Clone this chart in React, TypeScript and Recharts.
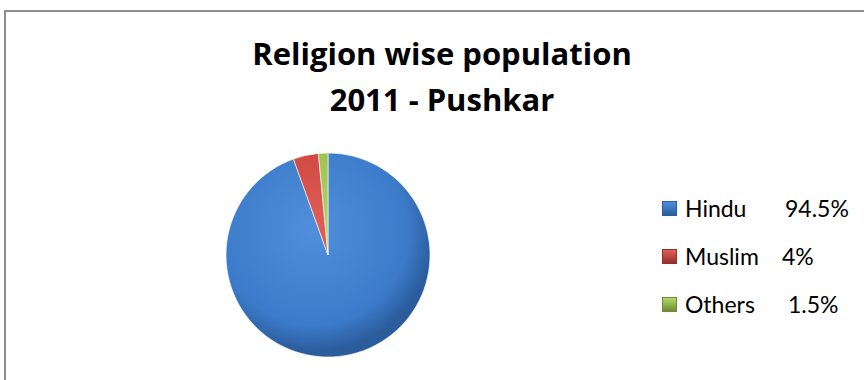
import React from 'react';
import { PieChart, Pie, Cell, Legend } from 'recharts';

const religions = ['Hindu', 'Muslim', 'Others'];
const shares = [94.5, 4, 1.5];
const shareLabels = ['94.5%', '4%', '1.5%'];
const labelOffsets = [123, 120, 126]; // where the percentage starts, from the legend's left edge

const fills = [
  { id: 'hindu', light: '#4f8fdb', mid: '#3c7bc9', dark: '#2b5c9c' },
  { id: 'muslim', light: '#e25f59', mid: '#cc443e', dark: '#94302c' },
  { id: 'others', light: '#b4d66a', mid: '#98be4c', dark: '#6f8c34' },
];

const data = religions.map((name, i) => ({ name, value: shares[i] }));

const CX = 328;
const CY = 255;
const R = 102;

function renderLegend(props: any) {
  const { payload } = props;
  return (
    <div style={{ fontFamily: 'Lato, "Open Sans", sans-serif', fontSize: 23, color: '#000' }}>
      {payload.map((entry: any, i: number) => (
        <div key={`legend-${i}`} style={{ position: 'relative', display: 'flex', alignItems: 'center', height: 48 }}>
          <span
            style={{
              display: 'inline-block',
              width: 15,
              height: 15,
              marginRight: 8,
              boxSizing: 'border-box',
              background: `linear-gradient(180deg, ${fills[i].light}, ${fills[i].dark})`,
              border: `1px solid ${fills[i].dark}`,
            }}
          />
          <span>{religions[i]}</span>
          <span style={{ position: 'absolute', left: labelOffsets[i] }}>{shareLabels[i]}</span>
        </div>
      ))}
    </div>
  );
}

export default function App() {
  return (
    <div style={{ position: 'absolute', left: 0, top: 0, width: 864, height: 380, overflow: 'hidden', background: '#fff' }}>
      <div
        style={{
          position: 'absolute',
          left: 4,
          top: 10,
          width: 900,
          height: 400,
          border: '2px solid #8e8e8e',
          boxSizing: 'border-box',
        }}
      />
      <div
        style={{
          position: 'absolute',
          left: 0,
          top: 30,
          width: 884,
          textAlign: 'center',
          fontFamily: '"Open Sans", Lato, sans-serif',
          fontWeight: 'bold',
          fontSize: 31,
          lineHeight: '46px',
          color: '#000',
        }}
      >
        <div>Religion wise population</div>
        <div>2011 - Pushkar</div>
      </div>
      <div style={{ position: 'absolute', left: 0, top: 0 }}>
        <PieChart width={864} height={380} margin={{ top: 0, right: 0, bottom: 0, left: 0 }}>
          <defs>
            {fills.map((f) => (
              <radialGradient key={f.id} id={`grad-${f.id}`} gradientUnits="userSpaceOnUse" cx={CX - 15} cy={CY - 25} r={R + 20}>
                <stop offset="0%" stopColor={f.light} />
                <stop offset="78%" stopColor={f.mid} />
                <stop offset="100%" stopColor={f.dark} />
              </radialGradient>
            ))}
          </defs>
          <Pie
            data={data}
            dataKey="value"
            nameKey="name"
            cx={CX}
            cy={CY}
            outerRadius={R}
            startAngle={90}
            endAngle={-270}
            stroke="#ffffff"
            strokeWidth={0.6}
            isAnimationActive={false}
          >
            {data.map((entry, index) => (
              <Cell key={`cell-${index}`} fill={`url(#grad-${fills[index].id})`} />
            ))}
          </Pie>
          <Legend
            layout="vertical"
            verticalAlign="top"
            align="right"
            wrapperStyle={{ left: 662, top: 184, width: 200 }}
            content={renderLegend}
          />
        </PieChart>
      </div>
    </div>
  );
}
